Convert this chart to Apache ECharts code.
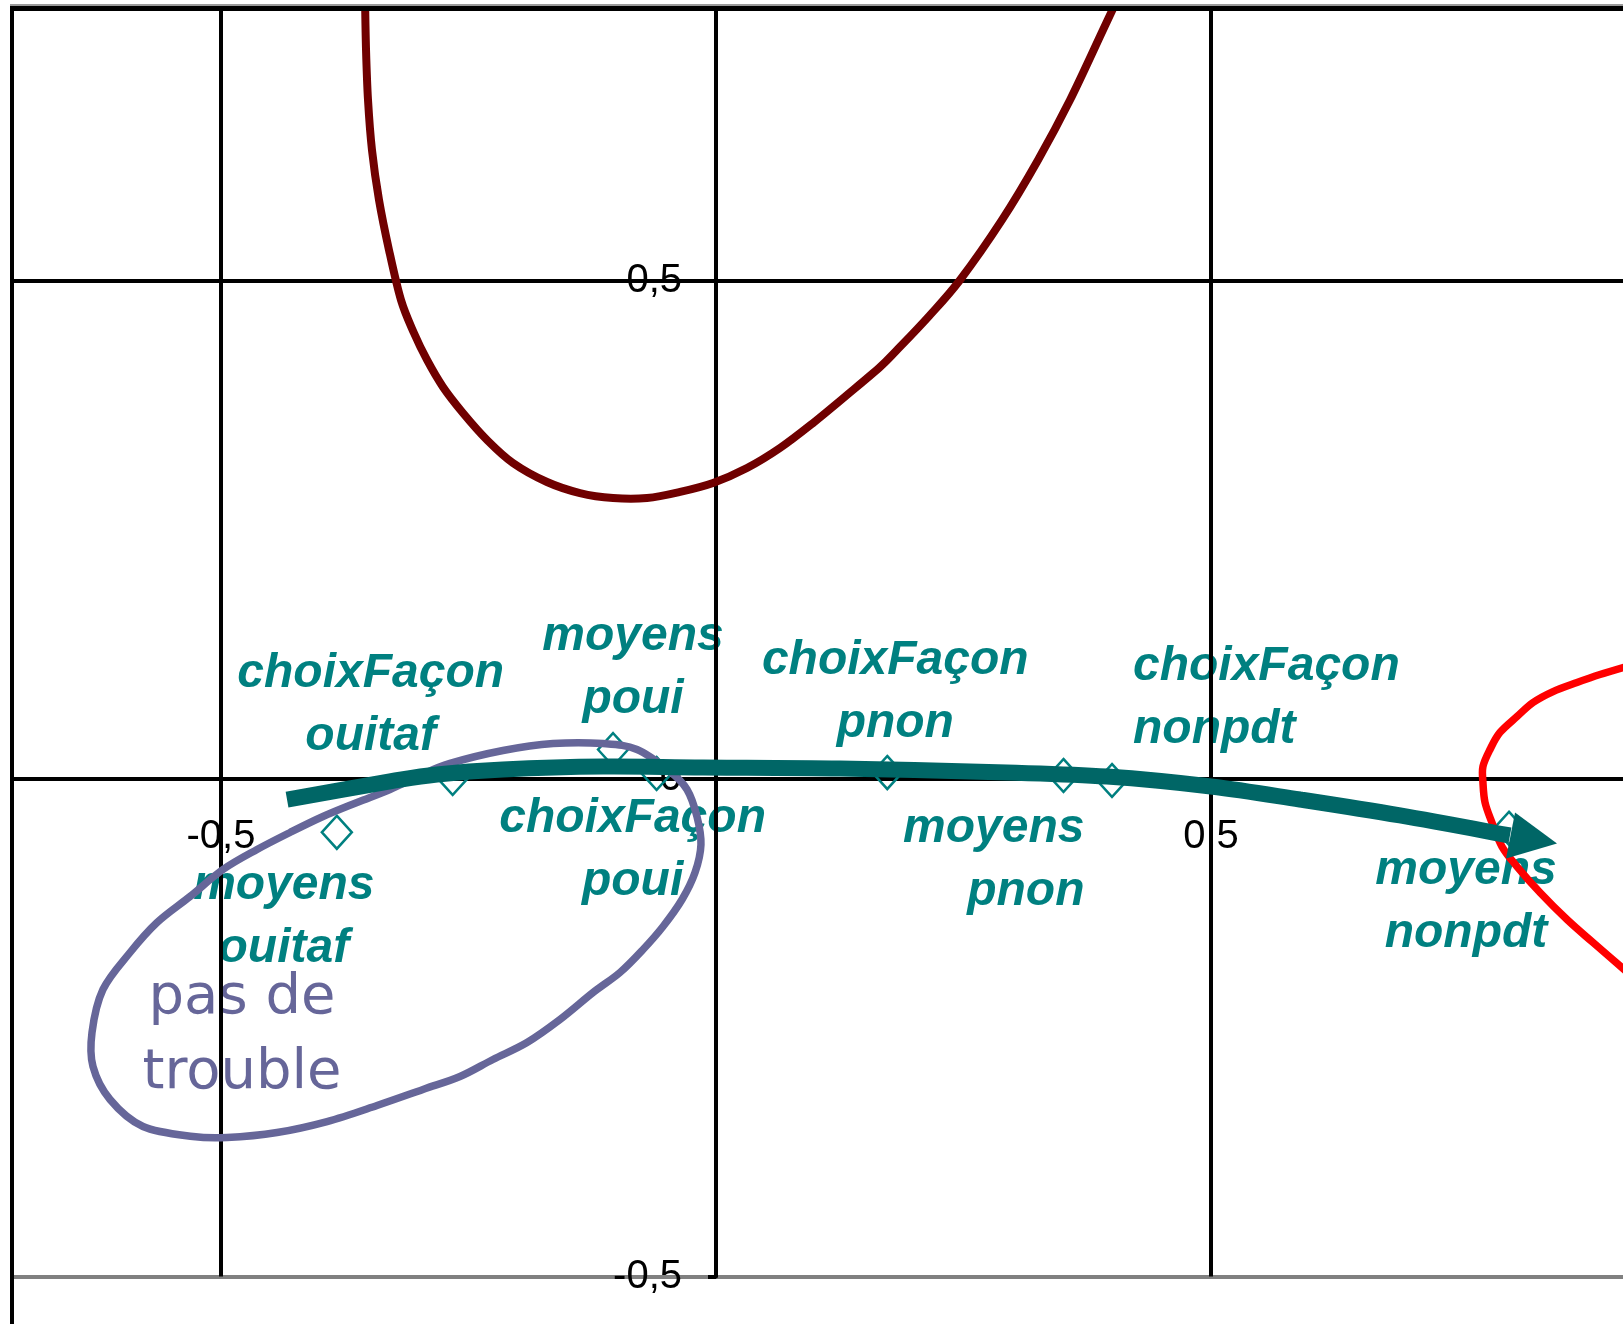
<!DOCTYPE html>
<html>
<head>
<meta charset="utf-8">
<script src="https://cdn.jsdelivr.net/npm/echarts@6/dist/echarts.min.js"></script>
<style>
html,body{margin:0;padding:0;background:#ffffff;}
#chart{width:1623px;height:1324px;}
</style>
</head>
<body>
<div id="chart"></div>
<script>
// ---------- data ----------
const pointNames = ['moyens\nouitaf', 'choixFaçon\nouitaf', 'moyens\npoui', 'choixFaçon\npoui',
                    'choixFaçon\npnon', 'moyens\npnon', 'choixFaçon\nnonpdt', 'moyens\nnonpdt'];
const pointX = [-0.383, -0.266, -0.104, -0.060, 0.173, 0.351, 0.400, 0.801];
const pointY = [-0.054, 0.000, 0.029, 0.005, 0.006, 0.003, -0.002, -0.050];

const xTickValues = [-0.5, 0, 0.5];
const xTickLabels = ['-0,5', '', '0,5'];
const yTickValues = [-0.5, 0, 0.5];
const yTickLabels = ['-0,5', '0', '0,5'];

const darkRedCurve = [[-0.3545,0.7816],[-0.3535,0.7314],[-0.3515,0.6812],[-0.3475,0.6310],[-0.3404,0.5808],
  [-0.3303,0.5306],[-0.3182,0.4804],[-0.3051,0.4473],[-0.2919,0.4202],[-0.2758,0.3931],[-0.2556,0.3670],
  [-0.2313,0.3399],[-0.2051,0.3168],[-0.1707,0.2977],[-0.1374,0.2866],[-0.1040,0.2816],[-0.0697,0.2816],
  [-0.0364,0.2877],[-0.0030,0.2967],[0.0313,0.3117],[0.0646,0.3318],[0.0980,0.3569],[0.1323,0.3850],
  [0.1657,0.4131],[0.1828,0.4302],[0.2152,0.4643],[0.2465,0.5005],[0.2889,0.5608],[0.3253,0.6210],
  [0.3576,0.6812],[0.3909,0.7515],[0.4051,0.7816]];

const redCurve = [[0.9232,0.1135],[0.8929,0.1044],[0.8697,0.0964],[0.8455,0.0873],[0.8253,0.0763],[0.8091,0.0622],
  [0.7919,0.0462],[0.7818,0.0291],[0.7747,0.0120],[0.7747,-0.0040],[0.7768,-0.0241],[0.7838,-0.0442],[0.7939,-0.0683],
  [0.8091,-0.0884],[0.8323,-0.1145],[0.8596,-0.1416],[0.8859,-0.1647],[0.9232,-0.1968]];

const purpleEllipse = [[-0.1646,0.0351],[-0.1141,0.0351],[-0.0798,0.0291],[-0.0465,0.0070],[-0.0293,-0.0110],
  [-0.0192,-0.0382],[-0.0152,-0.0663],[-0.0212,-0.0944],[-0.0343,-0.1215],[-0.0535,-0.1486],[-0.0737,-0.1717],
  [-0.0970,-0.1948],[-0.1242,-0.2149],[-0.1576,-0.2420],[-0.1909,-0.2651],[-0.2253,-0.2821],[-0.2586,-0.2992],
  [-0.2960,-0.3122],[-0.3424,-0.3283],[-0.3929,-0.3444],[-0.4434,-0.3554],[-0.4939,-0.3604],[-0.5283,-0.3594],
  [-0.5788,-0.3494],[-0.6121,-0.3223],[-0.6293,-0.2892],[-0.6303,-0.2550],[-0.6192,-0.2118],[-0.5919,-0.1747],
  [-0.5646,-0.1446],[-0.5313,-0.1185],[-0.4980,-0.0914],[-0.4636,-0.0713],[-0.4303,-0.0542],[-0.3970,-0.0382],
  [-0.3626,-0.0241],[-0.3293,-0.0110],[-0.2990,0.0030],[-0.2687,0.0151],[-0.2152,0.0281]];

const arrowShaft = [[-0.4333,-0.0211],[-0.3293,-0.0030],[-0.2818,0.0040],[-0.2152,0.0090],[-0.1141,0.0120],
  [-0.0131,0.0110],[0.1253,0.0100],[0.2939,0.0060],[0.3949,0.0020],[0.5000,-0.0080],[0.5899,-0.0211],
  [0.6909,-0.0371],[0.8020,-0.0572]];
const arrowHead = [[0.8071,-0.0341],[0.8495,-0.0653],[0.7980,-0.0803]];

const annotationText = 'pas de\ntrouble';
const annotationPos = [-0.4788, -0.2580];

// ---------- style / layout (not data) ----------
const X_MIN = -0.71111, X_MAX = 0.92626;
const Y_MIN = -0.5, Y_MAX = 0.77259;
const labelLayout = [
  {offset: [-53, 85], align: 'center'},
  {offset: [-82, -73], align: 'center'},
  {offset: [20, -81], align: 'center'},
  {offset: [-24, 77], align: 'center'},
  {offset: [8, -80], align: 'center'},
  {offset: [21, 85], align: 'right'},
  {offset: [21, -82], align: 'left'},
  {offset: [-43, 74], align: 'center'}
];
const TEAL = '#008080';
const AXIS_FONT = "'Liberation Sans', Arial, sans-serif";
const GRID_W = 4;

// Catmull-Rom spline through the (already projected) pixel points -> SVG path
function splinePath(pts, closed) {
  const n = pts.length;
  const get = i => closed ? pts[(i + n) % n] : pts[Math.max(0, Math.min(n - 1, i))];
  let d = 'M' + pts[0][0] + ' ' + pts[0][1];
  const segs = closed ? n : n - 1;
  for (let i = 0; i < segs; i++) {
    const p0 = get(i - 1), p1 = get(i), p2 = get(i + 1), p3 = get(i + 2);
    const c1x = p1[0] + (p2[0] - p0[0]) / 6, c1y = p1[1] + (p2[1] - p0[1]) / 6;
    const c2x = p2[0] - (p3[0] - p1[0]) / 6, c2y = p2[1] - (p3[1] - p1[1]) / 6;
    d += ' C' + c1x + ' ' + c1y + ' ' + c2x + ' ' + c2y + ' ' + p2[0] + ' ' + p2[1];
  }
  if (closed) d += ' Z';
  return d;
}

function curveSeries(points, closed, color, width, z, cap) {
  return {
    type: 'custom', silent: true, z: z, clip: true,
    data: [points[0]],
    renderItem: function (params, api) {
      const px = points.map(p => api.coord(p));
      return {
        type: 'path',
        shape: {pathData: splinePath(px, closed)},
        style: {fill: 'none', stroke: color, lineWidth: width, lineJoin: 'round', lineCap: cap || 'round'}
      };
    }
  };
}

const chart = echarts.init(document.getElementById('chart'), null, {renderer: 'canvas'});

const hiddenPoint = {symbolSize: 0, itemStyle: {color: 'rgba(0,0,0,0)', opacity: 1}};

const option = {
  backgroundColor: '#ffffff',
  animation: false,
  grid: {left: 12, top: 9, width: 1621, height: 1267.5, containLabel: false, outerBoundsMode: 'none', show: false},
  xAxis: {
    type: 'value', min: X_MIN, max: X_MAX,
    axisLine: {show: false}, axisTick: {show: false}, axisLabel: {show: false}, splitLine: {show: false}
  },
  yAxis: {
    type: 'value', min: Y_MIN, max: Y_MAX, interval: 0.5,
    axisLine: {show: true, onZero: true, lineStyle: {color: '#000000', width: GRID_W}},
    axisTick: {show: true, length: 8, lineStyle: {color: '#000000', width: GRID_W}},
    axisLabel: {show: false},
    splitLine: {show: true, lineStyle: {color: ['#808080', '#000000', '#000000', '#000000'], width: GRID_W}}
  },
  graphic: [
    {type: 'rect', shape: {x: 10, y: 4, width: 1613, height: 2}, style: {fill: '#9a9a9a'}, z: 50, silent: true},
    {type: 'rect', shape: {x: 10, y: 6, width: 1613, height: 5}, style: {fill: '#000000'}, z: 50, silent: true},
    {type: 'rect', shape: {x: 10, y: 6, width: 4, height: 1318}, style: {fill: '#000000'}, z: 50, silent: true}
  ],
  series: [
    {
      // vertical grid lines
      type: 'line', data: [], silent: true, z: 1,
      markLine: {
        silent: true, symbol: 'none', animation: false,
        label: {show: false},
        lineStyle: {color: '#000000', width: GRID_W, type: 'solid', opacity: 1},
        data: xTickValues.map(v => ({xAxis: v}))
      }
    },
    Object.assign({
      // x tick labels
      type: 'scatter', silent: true, z: 1,
      data: xTickValues.map((v, i) => ({value: [v, 0], name: xTickLabels[i]})).filter(d => d.name !== ''),
      label: {
        show: true, position: 'inside', offset: [0, 58], formatter: '{b}',
        fontFamily: AXIS_FONT, fontSize: 40, color: '#000000', align: 'center', verticalAlign: 'middle'
      }
    }, hiddenPoint),
    Object.assign({
      // y tick labels
      type: 'scatter', silent: true, z: 1,
      data: yTickValues.map((v, i) => ({value: [0, v], name: yTickLabels[i]})),
      label: {
        show: true, position: 'inside', offset: [-34, 0], formatter: '{b}',
        fontFamily: AXIS_FONT, fontSize: 40, color: '#000000', align: 'right', verticalAlign: 'middle'
      }
    }, hiddenPoint),
    {
      type: 'scatter', silent: true, z: 3,
      symbol: 'diamond', symbolSize: [30, 33],
      itemStyle: {color: 'rgba(255,255,255,0)', borderColor: TEAL, borderWidth: 2.5, opacity: 1},
      data: pointNames.map((n, i) => ({
        name: n, value: [pointX[i], pointY[i]],
        label: {offset: labelLayout[i].offset, align: labelLayout[i].align}
      })),
      label: {
        show: true, position: 'inside', formatter: '{b}',
        fontFamily: "'Liberation Sans', Arial, sans-serif", fontStyle: 'italic', fontWeight: 'bold',
        fontSize: 48, lineHeight: 63, color: TEAL, verticalAlign: 'middle'
      }
    },
    Object.assign({
      // annotation text
      type: 'scatter', silent: true, z: 4,
      data: [{value: annotationPos, name: annotationText}],
      label: {
        show: true, position: 'inside', formatter: '{b}',
        fontFamily: "'DejaVu Sans', sans-serif", fontWeight: 'normal', fontSize: 56, lineHeight: 75,
        color: '#666699', align: 'center', verticalAlign: 'middle',
        textShadowColor: '#c8c8c8', textShadowOffsetX: 3, textShadowOffsetY: 3, textShadowBlur: 0
      }
    }, hiddenPoint),
    curveSeries(darkRedCurve, false, '#700000', 8, 5),
    curveSeries(purpleEllipse, true, '#666699', 7.5, 5),
    curveSeries(redCurve, false, '#ff0000', 7.5, 5),
    curveSeries(arrowShaft, false, '#006666', 16, 6, 'butt'),
    {
      type: 'custom', silent: true, z: 6,
      data: [arrowHead[0]],
      renderItem: function (params, api) {
        return {
          type: 'polygon',
          shape: {points: arrowHead.map(p => api.coord(p))},
          style: {fill: '#006666'}
        };
      }
    }
  ]
};
chart.setOption(option);
</script>
</body>
</html>
